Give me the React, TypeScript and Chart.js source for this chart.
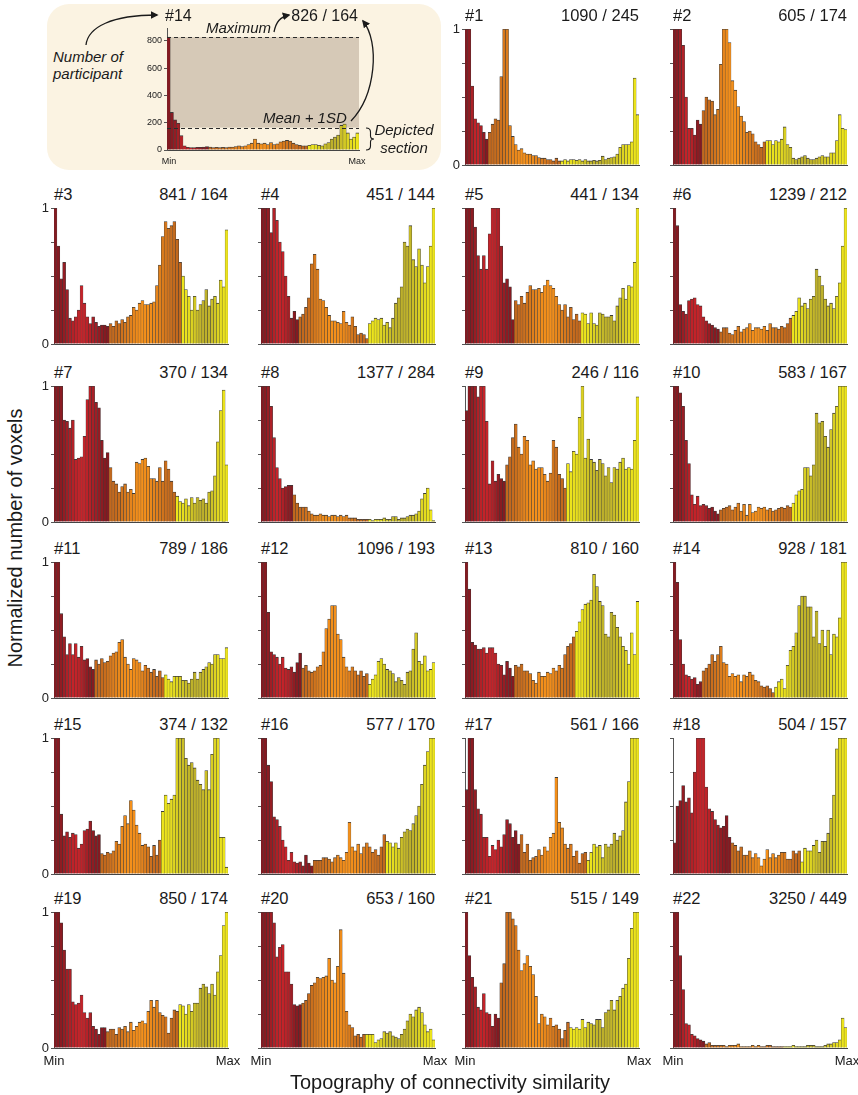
import React, { useEffect, useRef } from 'react';
import { Chart, registerables } from 'chart.js';
Chart.register(...registerables);

const FONT = "'Liberation Sans', Arial, Helvetica, sans-serif";

// ---------------- data ----------------
const subjectLabels = ['#1','#2','#3','#4','#5','#6','#7','#8','#9','#10','#11','#12','#13','#14','#15','#16','#17','#18','#19','#20','#21','#22'];
const maxima = [1090, 605, 841, 451, 441, 1239, 370, 1377, 246, 583, 789, 1096, 810, 928, 374, 577, 561, 504, 850, 653, 515, 3250];
const meanPlusSD = [245, 174, 164, 144, 134, 212, 134, 284, 116, 167, 186, 193, 160, 181, 132, 170, 166, 157, 174, 160, 149, 449];
// last bar (1-based) of the red group and of the orange group
const redEnds = [8, 10, 19, 13, 17, 16, 19, 11, 14, 16, 14, 14, 17, 10, 16, 18, 19, 20, 18, 14, 12, 11];
const orangeEnds = [33, 32, 44, 37, 40, 41, 42, 37, 35, 41, 38, 37, 38, 35, 37, 43, 42, 44, 43, 36, 36, 38];

const s1 = [1,1,0.58,0.34,0.31,0.29,0.24,0.19,0.24,0.3, 0.34,0.33,0.65,1,1,0.29,0.21,0.15,0.11,0.12, 0.09,0.08,0.08,0.07,0.07,0.055,0.05,0.05,0.04,0.04, 0.03,0.05,0.03,0.03,0.04,0.03,0.04,0.04,0.035,0.04, 0.03,0.04,0.03,0.03,0.035,0.03,0.035,0.065,0.04,0.05, 0.055,0.06,0.08,0.13,0.15,0.15,0.15,0.17,0.64,0.37];
const s2 = [1,1,1,0.88,0.5,0.27,0.27,0.22,0.33,0.3, 0.4,0.5,0.48,0.47,0.37,0.41,0.74,1,1,0.9, 0.62,0.55,0.43,0.36,0.32,0.24,0.25,0.23,0.17,0.15, 0.13,0.17,0.18,0.18,0.15,0.18,0.17,0.19,0.28,0.15, 0.13,0.05,0.04,0.05,0.06,0.07,0.05,0.04,0.04,0.05, 0.06,0.07,0.06,0.06,0.09,0.09,0.18,0.37,0.27,0.26];
const s3 = [1,0.72,0.48,0.6,0.4,0.19,0.17,0.2,0.25,0.43, 0.3,0.2,0.15,0.2,0.16,0.13,0.14,0.14,0.13,0.15, 0.13,0.17,0.15,0.18,0.16,0.2,0.21,0.27,0.25,0.3, 0.32,0.29,0.29,0.3,0.31,0.43,0.58,0.79,0.9,0.85, 0.87,0.9,0.77,0.6,0.5,0.4,0.35,0.25,0.35,0.25, 0.29,0.32,0.4,0.28,0.33,0.35,0.3,0.47,0.42,0.84];
const s4 = [1,1,1,0.82,1,0.91,0.75,0.68,0.5,0.35,0.19,0.24,0.18, 0.2,0.22,0.27,0.34,0.59,0.66,0.55,0.33,0.32,0.27,0.21,0.17,0.17,0.16,0.15,0.24,0.16,0.14,0.2,0.13,0.07,0.08,0.07,0.04, 0.15,0.17,0.19,0.18,0.19,0.14,0.16,0.12,0.19,0.3,0.34,0.42,0.75,0.72,0.87,0.62,0.57,0.7,0.58,0.45,0.57,0.72,1];
const s5 = [1,1,1,0.86,0.65,0.55,0.65,0.55,0.81,1,1,1,0.72,0.45,0.48,0.42,0.18, 0.32,0.29,0.35,0.3,0.38,0.43,0.4,0.4,0.41,0.38,0.43,0.47,0.43,0.41,0.35,0.29,0.25,0.29,0.2,0.27,0.18,0.22,0.17, 0.23,0.22,0.15,0.23,0.15,0.14,0.23,0.22,0.2,0.2,0.21,0.17,0.28,0.34,0.41,0.33,0.43,0.42,0.6,1];
const s6 = [1,0.87,0.29,0.24,0.22,0.32,0.33,0.34,0.29,0.28,0.2,0.17,0.15,0.14,0.12,0.11, 0.09,0.12,0.12,0.08,0.07,0.1,0.13,0.09,0.11,0.12,0.15,0.1,0.12,0.12,0.11,0.13,0.1,0.15,0.12,0.12,0.11,0.13,0.12,0.15,0.19, 0.21,0.24,0.34,0.28,0.3,0.26,0.33,0.35,0.55,0.5,0.43,0.33,0.28,0.3,0.26,0.35,0.45,0.72,1];
const s7 = [1,1,1,0.75,0.74,0.69,0.75,0.46,0.47,0.48,0.63,0.9,1,1,0.88,0.84,0.6,0.47,0.51, 0.4,0.3,0.28,0.22,0.26,0.28,0.22,0.24,0.21,0.44,0.43,0.46,0.47,0.41,0.32,0.32,0.3,0.4,0.3,0.45,0.39,0.3,0.22, 0.19,0.15,0.14,0.17,0.12,0.18,0.14,0.18,0.16,0.17,0.14,0.22,0.23,0.34,0.59,0.82,0.97,0.42];
const s8 = [1,1,1,0.85,0.62,0.4,0.32,0.25,0.26,0.27,0.27, 0.2,0.14,0.11,0.11,0.11,0.08,0.06,0.05,0.05,0.06,0.05,0.05,0.04,0.05,0.05,0.04,0.05,0.04,0.05,0.03,0.03,0.03,0.02,0.02,0.02,0.02, 0.02,0.01,0.02,0.02,0.02,0.03,0.02,0.02,0.04,0.04,0.02,0.03,0.03,0.04,0.05,0.05,0.06,0.08,0.17,0.21,0.25,0.09,0.01];
const s9 = [0.82,1,1,1,0.92,1,1,0.74,0.28,0.45,0.3,0.35,0.32,0.3, 0.42,0.48,0.62,0.72,0.55,0.5,0.63,0.6,0.42,0.45,0.39,0.4,0.4,0.35,0.3,0.36,0.6,0.55,0.35,0.32,0.25, 0.43,0.37,0.52,0.5,0.77,1,0.47,0.61,0.46,0.44,0.38,0.46,0.43,0.34,0.4,0.29,0.4,0.39,0.44,0.47,0.39,0.4,0.39,0.6,0.92];
const s10 = [1,1,0.95,0.85,0.6,0.43,0.2,0.13,0.19,0.12,0.13,0.12,0.1,0.11,0.08,0.06, 0.09,0.1,0.11,0.12,0.09,0.11,0.14,0.08,0.13,0.05,0.13,0.07,0.08,0.11,0.1,0.11,0.09,0.1,0.08,0.09,0.1,0.11,0.1,0.12,0.11, 0.14,0.2,0.23,0.24,0.4,0.4,0.34,0.42,0.8,0.73,0.74,0.63,0.55,0.68,0.8,0.85,1,1,1];
const s11 = [1,1,0.62,0.45,0.32,0.4,0.32,0.4,0.3,0.38,0.28,0.29,0.23,0.21, 0.28,0.25,0.29,0.26,0.27,0.31,0.33,0.34,0.41,0.43,0.3,0.25,0.21,0.29,0.28,0.26,0.2,0.24,0.22,0.19,0.21,0.16,0.2,0.15, 0.17,0.14,0.12,0.16,0.16,0.16,0.13,0.13,0.11,0.14,0.19,0.14,0.19,0.21,0.23,0.26,0.25,0.32,0.32,0.29,0.29,0.37];
const s12 = [1,1,0.63,0.34,0.32,0.3,0.25,0.3,0.22,0.21,0.23,0.19,0.26,0.33, 0.22,0.24,0.2,0.19,0.2,0.23,0.24,0.34,0.51,0.58,0.68,0.68,0.47,0.43,0.3,0.23,0.2,0.23,0.2,0.17,0.2,0.16,0.18, 0.1,0.14,0.17,0.27,0.29,0.25,0.21,0.2,0.18,0.12,0.15,0.13,0.1,0.19,0.2,0.36,0.48,0.27,0.25,0.31,0.2,0.21,0.26];
const s13 = [1,0.8,0.41,0.39,0.36,0.36,0.37,0.33,0.37,0.37,0.33,0.25,0.24,0.17,0.27,0.22,0.16, 0.24,0.23,0.25,0.2,0.2,0.18,0.13,0.11,0.19,0.16,0.16,0.19,0.18,0.22,0.2,0.24,0.22,0.32,0.38,0.4,0.45, 0.49,0.56,0.65,0.69,0.7,0.72,0.91,0.82,0.71,0.68,0.47,0.45,0.63,0.61,0.52,0.45,0.38,0.35,0.25,0.48,0.32,0.71];
const s14 = [1,0.85,0.43,0.25,0.17,0.16,0.14,0.15,0.1,0.12, 0.2,0.22,0.25,0.32,0.27,0.32,0.38,0.26,0.25,0.16,0.18,0.16,0.17,0.12,0.17,0.16,0.19,0.17,0.13,0.12,0.09,0.08,0.09,0.07,0.04, 0.08,0.12,0.14,0.07,0.24,0.35,0.38,0.48,0.68,0.75,0.75,0.67,0.67,0.45,0.64,0.4,0.5,0.38,0.5,0.32,0.47,0.45,0.59,1,1];
const s15 = [1,1,0.44,0.28,0.31,0.27,0.3,0.29,0.19,0.22,0.32,0.33,0.39,0.32,0.28,0.29, 0.15,0.14,0.16,0.15,0.17,0.24,0.22,0.35,0.43,0.37,0.54,0.47,0.36,0.3,0.21,0.22,0.2,0.13,0.21,0.14,0.25, 0.46,0.58,0.52,0.55,0.58,1,1,1,0.85,0.8,0.82,0.78,0.69,0.66,0.62,0.76,0.62,0.88,1,1,0.27,0.27,0.05];
const s16 = [1,1,0.8,0.68,0.42,0.4,0.35,0.25,0.2,0.1,0.16,0.09,0.08,0.09,0.06,0.14,0.08,0.06, 0.1,0.1,0.1,0.12,0.12,0.11,0.09,0.12,0.14,0.12,0.1,0.16,0.38,0.2,0.17,0.22,0.15,0.2,0.23,0.2,0.16,0.18,0.14,0.2,0.29, 0.24,0.23,0.2,0.23,0.19,0.27,0.31,0.33,0.32,0.37,0.43,0.5,0.66,0.8,0.9,1,1];
const s17 = [0.62,1,1,0.62,0.48,0.44,0.27,0.27,0.13,0.21,0.18,0.25,0.2,0.29,0.4,0.37,0.27,0.32,0.22, 0.29,0.16,0.22,0.1,0.12,0.13,0.18,0.14,0.2,0.17,0.27,0.3,0.71,0.38,0.34,0.22,0.19,0.22,0.13,0.17,0.08,0.15,0.16, 0.1,0.16,0.22,0.2,0.21,0.12,0.22,0.2,0.22,0.3,0.25,0.28,0.32,0.53,0.68,1,1,1];
const s18 = [0.23,0.5,0.54,0.65,0.53,0.56,0.45,0.75,1,1,1,0.64,0.48,0.46,0.4,0.36,0.34,0.35,0.43,0.27, 0.23,0.21,0.17,0.2,0.14,0.14,0.17,0.12,0.15,0.12,0.06,0.11,0.18,0.12,0.15,0.12,0.14,0.16,0.16,0.11,0.11,0.17,0.15,0.17, 0.09,0.19,0.17,0.17,0.21,0.25,0.16,0.24,0.24,0.3,0.41,0.58,0.92,1,1,1];
const s19 = [1,1,0.92,0.72,0.58,0.58,0.34,0.32,0.33,0.39,0.26,0.22,0.26,0.16,0.14,0.1,0.15,0.15, 0.12,0.14,0.14,0.1,0.15,0.14,0.16,0.12,0.19,0.13,0.16,0.19,0.2,0.18,0.27,0.35,0.3,0.35,0.26,0.24,0.23,0.11,0.22,0.28,0.27, 0.32,0.31,0.25,0.32,0.27,0.33,0.33,0.44,0.47,0.45,0.4,0.47,0.39,0.56,0.68,0.9,1];
const s20 = [1,1,1,1,0.92,0.67,0.74,0.76,0.56,0.56,0.47,0.32,0.31,0.32, 0.33,0.35,0.4,0.46,0.48,0.52,0.51,0.52,0.53,0.66,0.5,0.48,0.6,0.87,0.55,0.27,0.17,0.15,0.09,0.1,0.08,0.1, 0.1,0.1,0.1,0.04,0.06,0.07,0.12,0.11,0.12,0.09,0.08,0.07,0.1,0.14,0.2,0.25,0.23,0.28,0.3,0.26,0.17,0.12,0.14,0.06];
const s21 = [1,0.68,0.52,0.45,0.3,0.28,0.4,0.26,0.25,0.16,0.25,0.22, 0.48,0.62,1,1,0.95,0.9,0.72,0.57,0.62,0.68,0.6,0.54,0.38,0.18,0.25,0.23,0.17,0.22,0.16,0.17,0.14,0.07,0.13,0.19, 0.15,0.14,0.15,0.14,0.21,0.15,0.19,0.18,0.17,0.21,0.21,0.15,0.26,0.28,0.35,0.28,0.35,0.38,0.44,0.47,0.66,0.88,1,1];
const s22 = [1,1,0.68,0.43,0.18,0.17,0.1,0.09,0.07,0.06,0.05, 0.03,0.04,0.02,0.02,0.02,0.02,0.02,0.01,0.02,0.02,0.02,0.03,0.01,0.01,0.01,0.01,0.02,0.01,0.02,0.01,0.01,0.02,0.02,0.01,0.01,0.01,0.01, 0.01,0.01,0.01,0.02,0.01,0.01,0.01,0.01,0.02,0.02,0.02,0.01,0.01,0.01,0.02,0.03,0.03,0.04,0.04,0.06,0.22,0.15];
const series = [s1,s2,s3,s4,s5,s6,s7,s8,s9,s10,s11,s12,s13,s14,s15,s16,s17,s18,s19,s20,s21,s22];

// example panel (participant #14, raw voxel counts)
const insetCounts = [826,275,220,195,105,30,20,18,18,20, 20,22,25,22,18,20,18,20,18,22, 22,25,30,25,30,40,50,80,50,45, 50,40,55,40,45,60,65,70,65,50, 40,35,30,30,35,40,40,35,30,45, 55,80,95,110,180,190,125,80,95,125];
const insetLabel = '#14';
const insetMaximum = 826;
const insetMeanSD = 164;
const insetRedEnd = 13;
const insetOrangeEnd = 44;
const insetTicks = [0, 200, 400, 600, 800];
const unitTicks = [0, 1];

// ---------------- layout ----------------
const COLS = [54, 261, 465, 673];
const ROWS = [29, 208, 386, 562, 738, 912];
const PW = 174;
const PH = 136;

function hexToRgb(h: string) {
  const n = parseInt(h.slice(1), 16);
  return [(n >> 16) & 255, (n >> 8) & 255, n & 255];
}
function mix(a: string, b: string, t: number) {
  const A = hexToRgb(a), B = hexToRgb(b);
  const c = A.map((v, i) => Math.round(v + (B[i] - v) * t));
  return `rgb(${c[0]},${c[1]},${c[2]})`;
}
function barColors(n: number, redEnd: number, orangeEnd: number) {
  const out: string[] = [];
  for (let i = 0; i < n; i++) {
    if (i < redEnd) {
      const t = i / Math.max(1, redEnd - 1);
      const w = 0.5 - 0.5 * Math.cos(2 * Math.PI * t);
      out.push(mix('#841a21', '#d0252b', w * 0.85));
    } else if (i < orangeEnd) {
      const t = (i - redEnd) / Math.max(1, orangeEnd - redEnd - 1);
      const w = 0.5 - 0.5 * Math.cos(2 * Math.PI * t);
      out.push(mix('#c2681d', '#f4901b', w));
    } else {
      const t = (i - orangeEnd) / Math.max(1, n - orangeEnd - 1);
      const w = 0.5 + 0.5 * Math.cos(2 * Math.PI * t);
      out.push(mix('#bdb02b', '#ede51c', w));
    }
  }
  return out;
}

type HistProps = {
  values: number[]; redEnd: number; orangeEnd: number;
  x: number; y: number; w: number; h: number;
  yMax: number; step: number; shown: number[]; showLabels: boolean;
  tickSize: number; padL: number; extraPlugin?: any;
};

function Hist(p: HistProps) {
  const ref = useRef<HTMLCanvasElement | null>(null);
  const padR = 3, padT = 10, padB = 10;
  const cw = p.w + p.padL + padR;
  const ch = p.h + padT + padB;
  useEffect(() => {
    const canvas = ref.current;
    if (!canvas) return;
    const chart = new Chart(canvas, {
      type: 'bar',
      data: {
        labels: p.values.map((_, i) => String(i + 1)),
        datasets: [{
          data: p.values.map((v) => Math.min(v, p.yMax)),
          backgroundColor: barColors(p.values.length, p.redEnd, p.orangeEnd),
          borderColor: '#3a3a3a',
          borderWidth: { top: 0.8, left: 0.45, right: 0.45, bottom: 0 },
          borderSkipped: 'start',
          barPercentage: 1,
          categoryPercentage: 1,
        }],
      },
      options: {
        animation: false,
        responsive: false,
        devicePixelRatio: 1,
        layout: { padding: { left: 0, right: padR, top: padT, bottom: padB } },
        plugins: { legend: { display: false }, tooltip: { enabled: false } },
        scales: {
          x: {
            grid: { display: false },
            ticks: { display: false },
            border: { display: true, color: '#444', width: 1 },
            afterFit: (s: any) => { s.height = 0; },
          },
          y: {
            min: 0,
            max: p.yMax,
            afterFit: (s: any) => { s.width = p.padL; },
            ticks: {
              stepSize: p.step,
              includeBounds: false,
              autoSkip: false,
              padding: 2,
              color: '#222',
              font: { family: FONT, size: p.tickSize },
              callback: (v: any) => (p.showLabels && p.shown.includes(Number(v)) ? String(v) : ''),
            },
            grid: { drawOnChartArea: false, drawTicks: true, tickLength: 3, color: '#555', lineWidth: 1 },
            border: { display: true, color: '#555', width: 1 },
          },
        },
      },
      plugins: p.extraPlugin ? [p.extraPlugin] : [],
    } as any);
    const ca = chart.chartArea;
    canvas.style.left = `${p.x - ca.left}px`;
    canvas.style.top = `${p.y - ca.top}px`;
    return () => chart.destroy();
  }, []);
  return (
    <canvas
      ref={ref}
      width={cw}
      height={ch}
      style={{ position: 'absolute', left: p.x - p.padL, top: p.y - padT, width: cw, height: ch }}
    />
  );
}

const bandPlugin = {
  id: 'band',
  beforeDatasetsDraw(chart: any) {
    const { ctx, chartArea: a, scales } = chart;
    const yTop = scales.y.getPixelForValue(insetMaximum);
    const yBot = scales.y.getPixelForValue(insetMeanSD);
    ctx.save();
    ctx.fillStyle = '#d6c9b7';
    ctx.fillRect(a.left, yTop, a.right - a.left, yBot - yTop);
    ctx.restore();
  },
  afterDatasetsDraw(chart: any) {
    const { ctx, chartArea: a, scales } = chart;
    ctx.save();
    ctx.strokeStyle = '#2a2a2a';
    ctx.lineWidth = 1;
    ctx.setLineDash([4, 3]);
    [insetMaximum, insetMeanSD].forEach((v) => {
      const yy = Math.round(scales.y.getPixelForValue(v)) + 0.5;
      ctx.beginPath();
      ctx.moveTo(a.left, yy);
      ctx.lineTo(a.right, yy);
      ctx.stroke();
    });
    ctx.restore();
  },
};

const txt: React.CSSProperties = { position: 'absolute', fontFamily: FONT, color: '#1a1a1a', whiteSpace: 'nowrap' };

function Title({ x, y, left, right }: { x: number; y: number; left: string; right: string }) {
  return (
    <div style={{ ...txt, left: x, top: y - 24, width: PW, height: 20, lineHeight: '20px', fontSize: 16.5, display: 'flex', justifyContent: 'space-between' }}>
      <span>{left}</span>
      <span>{right}</span>
    </div>
  );
}

export default function App() {
  const panels = series.map((vals, k) => {
    const row = k < 2 ? 0 : 1 + Math.floor((k - 2) / 4);
    const col = k < 2 ? 2 + k : (k - 2) % 4;
    return { vals, k, x: COLS[col], y: ROWS[row], col };
  });
  return (
    <div style={{ position: 'absolute', left: 0, top: 0, width: 858, height: 1095, background: '#fff', overflow: 'hidden' }}>
      {/* example panel */}
      <div style={{ position: 'absolute', left: 47, top: 4, width: 394, height: 166, borderRadius: 22, background: '#fbf3e2' }} />
      <Hist values={insetCounts} redEnd={insetRedEnd} orangeEnd={insetOrangeEnd} x={167} y={28} w={192} h={122}
        yMax={893} step={200} shown={insetTicks} showLabels={true} tickSize={9} padL={26} extraPlugin={bandPlugin} />
      <div style={{ ...txt, left: 165, top: 6, fontSize: 16, lineHeight: '20px' }}>{insetLabel}</div>
      <div style={{ ...txt, left: 258, width: 100, textAlign: 'right', top: 6, fontSize: 16, lineHeight: '20px' }}>{`${insetMaximum} / ${insetMeanSD}`}</div>
      <div style={{ ...txt, left: 206, top: 19, fontSize: 15, lineHeight: '18px', fontStyle: 'italic' }}>Maximum</div>
      <div style={{ ...txt, left: 263, top: 109, fontSize: 15, lineHeight: '18px', fontStyle: 'italic' }}>Mean + 1SD</div>
      <div style={{ ...txt, left: 53, top: 49, fontSize: 15, lineHeight: '16.5px', fontStyle: 'italic' }}>Number of<br />participant</div>
      <div style={{ ...txt, left: 364, width: 80, textAlign: 'center', top: 121, fontSize: 15, lineHeight: '17.5px', fontStyle: 'italic' }}>Depicted<br />section</div>
      <div style={{ ...txt, left: 157, width: 24, textAlign: 'center', top: 156, fontSize: 9, lineHeight: '11px' }}>Min</div>
      <div style={{ ...txt, left: 345, width: 24, textAlign: 'center', top: 156, fontSize: 9, lineHeight: '11px' }}>Max</div>
      <svg width={858} height={180} style={{ position: 'absolute', left: 0, top: 0, overflow: 'visible' }}>
        <defs>
          <marker id="ah" viewBox="0 0 10 10" refX="8" refY="5" markerWidth="6" markerHeight="6" orient="auto">
            <path d="M0,0 L10,5 L0,10 Z" fill="#1a1a1a" />
          </marker>
        </defs>
        <path d="M 86 45 C 88 27 112 15 157 15" fill="none" stroke="#1a1a1a" strokeWidth="1.3" markerEnd="url(#ah)" />
        <path d="M 274 32 C 276 22 280 17 289 15" fill="none" stroke="#1a1a1a" strokeWidth="1.3" markerEnd="url(#ah)" />
        <path d="M 351 121 C 376 95 380 42 363 21" fill="none" stroke="#1a1a1a" strokeWidth="1.3" markerEnd="url(#ah)" />
        <path d="M 366 128 Q 370.5 128 370.5 132 L 370.5 136 Q 370.5 139 374 139 Q 370.5 139 370.5 142 L 370.5 146 Q 370.5 150 366 150" fill="none" stroke="#1a1a1a" strokeWidth="1.1" />
      </svg>

      {panels.map((pn) => (
        <React.Fragment key={pn.k}>
          <Title x={pn.x} y={pn.y} left={subjectLabels[pn.k]} right={`${maxima[pn.k]} / ${meanPlusSD[pn.k]}`} />
          <Hist values={pn.vals} redEnd={redEnds[pn.k]} orangeEnd={orangeEnds[pn.k]} x={pn.x} y={pn.y} w={PW} h={PH}
            yMax={1} step={0.25} shown={unitTicks} showLabels={pn.col === 0 || pn.k === 0} tickSize={13} padL={22} />
        </React.Fragment>
      ))}

      {COLS.map((cx, i) => (
        <React.Fragment key={'mm' + i}>
          <div style={{ ...txt, left: cx - 25, width: 50, textAlign: 'center', top: 1053, fontSize: 13, lineHeight: '16px' }}>Min</div>
          <div style={{ ...txt, left: cx + PW - 25, width: 50, textAlign: 'center', top: 1053, fontSize: 13, lineHeight: '16px' }}>Max</div>
        </React.Fragment>
      ))}

      <div style={{ ...txt, left: 150, width: 600, textAlign: 'center', top: 1070, fontSize: 20, lineHeight: '24px' }}>Topography of connectivity similarity</div>
      <div style={{ ...txt, left: 15 - 200, top: 538 - 12, width: 400, height: 24, textAlign: 'center', fontSize: 20, lineHeight: '24px', transform: 'rotate(-90deg)' }}>Normalized number of voxels</div>
    </div>
  );
}
